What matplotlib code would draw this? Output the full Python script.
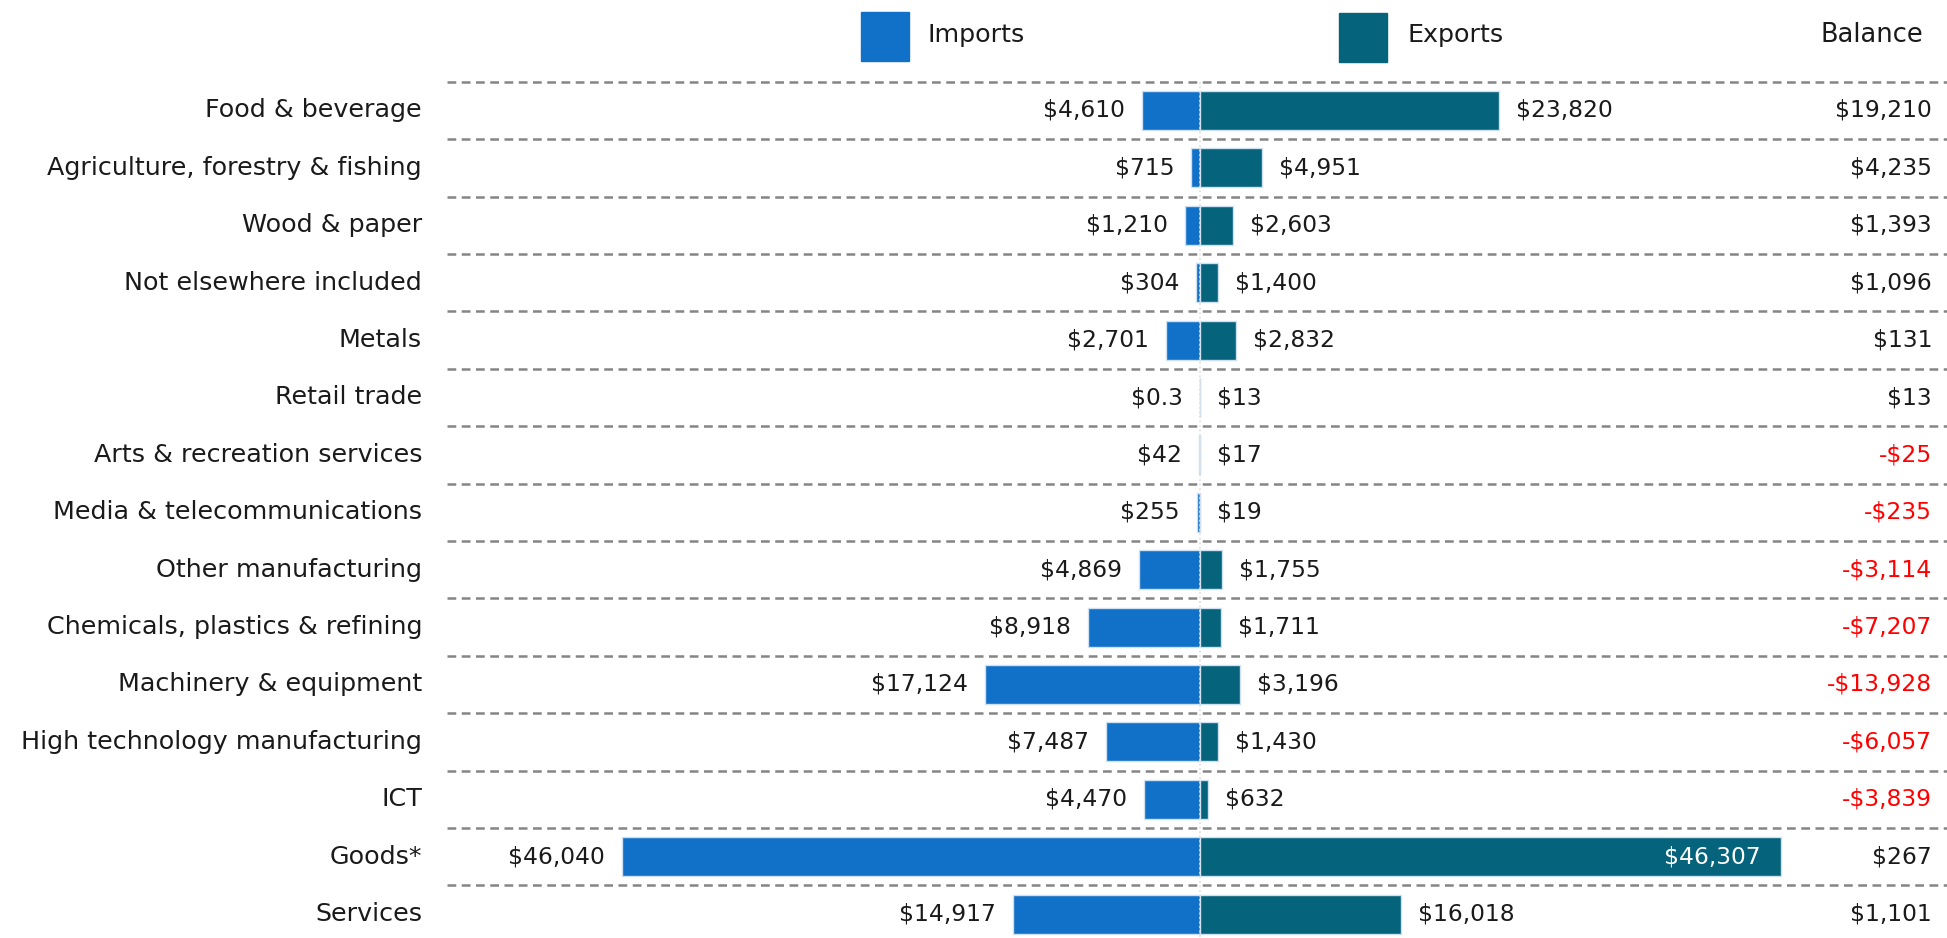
import matplotlib
matplotlib.use("Agg")
import matplotlib.pyplot as plt
from matplotlib.patches import Rectangle

plt.rcParams['font.family'] = ['DejaVu Sans']

categories = ['Food & beverage', 'Agriculture, forestry & fishing', 'Wood & paper',
              'Not elsewhere included', 'Metals', 'Retail trade', 'Arts & recreation services',
              'Media & telecommunications', 'Other manufacturing', 'Chemicals, plastics & refining',
              'Machinery & equipment', 'High technology manufacturing', 'ICT', 'Goods*', 'Services']
imports = [4610, 715, 1210, 304, 2701, 0.3, 42, 255, 4869, 8918, 17124, 7487, 4470, 46040, 14917]
exports = [23820, 4951, 2603, 1400, 2832, 13, 17, 19, 1755, 1711, 3196, 1430, 632, 46307, 16018]
balance = [19210, 4235, 1393, 1096, 131, 13, -25, -235, -3114, -7207, -13928, -6057, -3839, 267, 1101]

IMP = '#1170c8'
EXP = '#05637b'
W, H = 1947, 938
px = 0.01255          # pixels per dollar
cx = 1200             # centre line pixel
row0, rowh = 110.5, 57.4


def money(v):
    s = '-' if v < 0 else ''
    v = abs(v)
    if v < 1:
        return s + '$' + ('%g' % v)
    return s + '${:,.0f}'.format(v)


fig = plt.figure(figsize=(W / 100, H / 100), dpi=100)
ax = fig.add_axes([0, 0, 1, 1])
ax.set_xlim(-cx / px, (W - cx) / px)
ax.set_ylim((H - row0) / rowh, -row0 / rowh)
ax.axis('off')

n = len(categories)
ys = list(range(n))
fs_cat = 18.3
fs_val = 16.8
gap = 17 / px

# dashed separators
for i in range(n + 1):
    ax.plot([-60000, 70000], [i - 0.5, i - 0.5], color='#858585', lw=1.8,
            ls=(0, (3.5, 2.2)), zorder=1)

ax.barh(ys, [-v for v in imports], height=0.68, color=IMP, edgecolor='#cfe0f0', lw=1, zorder=2)
ax.barh(ys, exports, height=0.68, color=EXP, edgecolor='#cfe0f0', lw=1, zorder=2)
ax.plot([0, 0], [-0.5, n + 1], color='#e0e0e0', lw=1.3, ls=(0, (1, 1.5)), zorder=3)

lab_x = (422 - cx) / px
bal_x = (1932 - cx) / px
for i in range(n):
    ax.text(lab_x, i, categories[i], ha='right', va='center', fontsize=fs_cat, color='#1a1a1a')
    ax.text(-imports[i] - gap, i, money(imports[i]), ha='right', va='center', fontsize=fs_val,
            color='#1a1a1a')
    if exports[i] > 30000:
        ax.text(exports[i] - 21 / px, i, money(exports[i]), ha='right', va='center',
                fontsize=fs_val, color='white', zorder=4)
    else:
        ax.text(exports[i] + gap, i, money(exports[i]), ha='left', va='center', fontsize=fs_val,
                color='#1a1a1a')
    ax.text(bal_x, i, money(balance[i]), ha='right', va='center', fontsize=fs_val,
            color='#ff0000' if balance[i] < 0 else '#1a1a1a')

# legend / header
fig.add_artist(Rectangle((861 / W, 1 - 61 / H), 48 / W, 49 / H, color=IMP, transform=fig.transFigure))
fig.add_artist(Rectangle((1339 / W, 1 - 62 / H), 48 / W, 49 / H, color=EXP, transform=fig.transFigure))
fig.text(927 / W, 1 - 35 / H, 'Imports', ha='left', va='center', fontsize=fs_cat, color='#1a1a1a')
fig.text(1408 / W, 1 - 35 / H, 'Exports', ha='left', va='center', fontsize=fs_cat, color='#1a1a1a')
fig.text(1923 / W, 1 - 35 / H, 'Balance', ha='right', va='center', fontsize=18.5, color='#1a1a1a')

fig.savefig('out.png', dpi=100)
